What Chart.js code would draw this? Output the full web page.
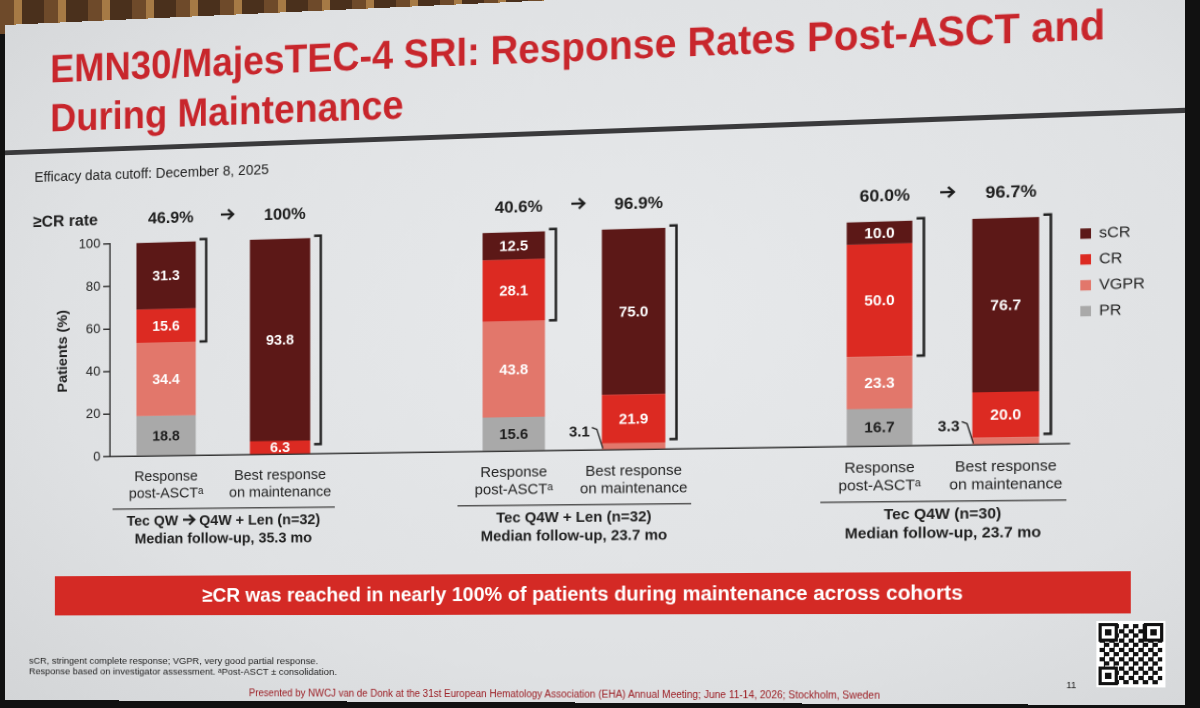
<!DOCTYPE html>
<html>
<head>
<meta charset="utf-8">
<script src="https://cdn.jsdelivr.net/npm/chart.js@4.4.1/dist/chart.umd.min.js"></script>
<style>
  html, body { margin: 0; padding: 0; }
  body {
    width: 1200px; height: 708px; overflow: hidden; position: relative;
    background:
      repeating-linear-gradient(90deg, #6e4a2a 0 14px, #a67a45 14px 22px, #4a301c 22px 44px) top left / 620px 34px no-repeat,
      #111;
    font-family: "Liberation Sans", Arial, sans-serif;
  }
  #slide {
    position: absolute; left: 5px; top: -2px; width: 1180px; height: 705px;
    transform-origin: 0 0;
    background: radial-gradient(ellipse at 55% 45%, #e7e9eb 0%, #dfe1e3 65%, #d3d5d7 100%);
    overflow: hidden;
  }
  #slide > div { position: absolute; }
  .title { left: 49px; top: 22.9px; font-size: 41px; line-height: 51px; font-weight: bold; color: #c8262c;
           white-space: nowrap; transform: scaleX(0.949); transform-origin: 0 0; }
  .rule { left: 0; top: 131px; width: 1180px; height: 5px; background: #3a3a3c; }
  .cutoff { left: 32px; top: 152.6px; font-size: 14.5px; line-height: 14.5px; color: #222; white-space: nowrap; }
  .chartbox { left: 0; top: 180px; width: 1180px; height: 380px; }
  .banner { left: 54px; top: 576px; width: 1076px; height: 41px; background: #d42a25; color: #fff;
            font-size: 20px; line-height: 41px; font-weight: bold; text-align: center; white-space: nowrap; }
  .foot { left: 26px; top: 657.5px; font-size: 9.9px; line-height: 11.5px; color: #222; white-space: nowrap; }
  .presented { left: 257px; width: 640px; top: 690.7px; font-size: 10px; line-height: 12px; color: #9b1c22; text-align: center; white-space: nowrap; }
  .pagenum { left: 1070px; top: 680.8px; font-size: 9px; line-height: 11px; color: #222; }
  .qr { left: 1098px; top: 624px; width: 64px; height: 64px; background: #fff; }
  .qr .cells { position: absolute; left: 3px; top: 3px; width: 58px; height: 58px;
               background: repeating-conic-gradient(#111 0 25%, #fff 0 50%) 0 0 / 9px 9px; }
  .qr .finder { position: absolute; width: 12px; height: 12px; border: 3px solid #111; background: #fff; }
  .qr .finder::after { content: ""; position: absolute; left: 3px; top: 3px; width: 6px; height: 6px; background: #111; }
</style>
</head>
<body>
<div id="slide">
  <div class="title">EMN30/MajesTEC-4 SRI: Response Rates Post-ASCT and<br>During Maintenance</div>
  <div class="rule"></div>
  <div class="cutoff">Efficacy data cutoff: December 8, 2025</div>
  <div class="chartbox"><canvas id="chart"></canvas></div>
  <div class="banner">≥CR was reached in nearly 100% of patients during maintenance across cohorts</div>
  <div class="foot">sCR, stringent complete response; VGPR, very good partial response.<br>Response based on investigator assessment. ᵃPost-ASCT ± consolidation.</div>
  <div class="presented">Presented by NWCJ van de Donk at the 31st European Hematology Association (EHA) Annual Meeting; June 11-14, 2026; Stockholm, Sweden</div>
  <div class="pagenum">11</div>
  <div class="qr">
    <div class="cells"></div>
    <div class="finder" style="left:2px;top:2px"></div>
    <div class="finder" style="left:44px;top:2px"></div>
    <div class="finder" style="left:2px;top:44px"></div>
  </div>
</div>
<script>
// cohorts
const cohortRegimens = ['Tec QW → Q4W + Len (n=32)', 'Tec Q4W + Len (n=32)', 'Tec Q4W (n=30)'];
const cohortFollowUp = ['Median follow-up, 35.3 mo', 'Median follow-up, 23.7 mo', 'Median follow-up, 23.7 mo'];
const crRatePostASCT = ['46.9%', '40.6%', '60.0%'];
const crRateMaintenance = ['100%', '96.9%', '96.7%'];
const timepoints = [['Response', 'post-ASCTᵃ'], ['Best response', 'on maintenance']];

// one value per bar: cohort 1 post-ASCT, cohort 1 maintenance, cohort 2 ..., cohort 3 ...
const prValues   = [18.8, 0,    15.6, 0,    16.7, 0];
const vgprValues = [34.4, 0,    43.8, 3.1,  23.3, 3.3];
const crValues   = [15.6, 6.3,  28.1, 21.9, 50.0, 20.0];
const scrValues  = [31.3, 93.8, 12.5, 75.0, 10.0, 76.7];

const seriesNames  = ['PR', 'VGPR', 'CR', 'sCR'];
const seriesColors = ['#a9a9a9', '#e2776b', '#dc2a22', '#5c1817'];
const labelColors  = ['#1e1e1e', '#ffffff', '#ffffff', '#ffffff'];
const yTicks = [0, 20, 40, 60, 80, 100];

// --- perspective of the photographed slide (flat slide -> photo) ---
function solve(A, b) {
  const n = b.length;
  for (let i = 0; i < n; i++) {
    let p = i;
    for (let r = i + 1; r < n; r++) if (Math.abs(A[r][i]) > Math.abs(A[p][i])) p = r;
    [A[i], A[p]] = [A[p], A[i]]; [b[i], b[p]] = [b[p], b[i]];
    for (let r = i + 1; r < n; r++) {
      const f = A[r][i] / A[i][i];
      for (let c = i; c < n; c++) A[r][c] -= f * A[i][c];
      b[r] -= f * b[i];
    }
  }
  const x = new Array(n);
  for (let i = n - 1; i >= 0; i--) {
    let s = b[i];
    for (let c = i + 1; c < n; c++) s -= A[i][c] * x[c];
    x[i] = s / A[i][i];
  }
  return x;
}
function homography(src, dst) {
  const A = [], b = [];
  for (let i = 0; i < 4; i++) {
    const [x, y] = src[i], [X, Y] = dst[i];
    A.push([x, y, 1, 0, 0, 0, -X * x, -X * y]); b.push(X);
    A.push([0, 0, 0, x, y, 1, -Y * x, -Y * y]); b.push(Y);
  }
  const h = solve(A, b);
  return `matrix3d(${h[0]},${h[3]},0,${h[6]},${h[1]},${h[4]},0,${h[7]},0,0,1,0,${h[2]},${h[5]},0,1)`;
}
const slide = document.getElementById('slide');
slide.style.transform = homography(
  [[0, 0], [1180, 0], [1180, 705], [0, 705]],
  [[0, 27], [1180, -26.6], [1180, 707.2], [0, 702]]
);

// --- chart data: a blank category between cohorts ---
function withGaps(arr, gap) {
  const out = [];
  arr.forEach((v, i) => { out.push(v); if (i % 2 === 1 && i < arr.length - 1) out.push(gap); });
  return out;
}
const categories = withGaps(cohortRegimens.flatMap(() => timepoints), '');
const seriesValues = [prValues, vgprValues, crValues, scrValues];

const FONT = '"Liberation Sans", Arial, sans-serif';
Chart.defaults.font.family = FONT;
Chart.defaults.color = '#222';

// thick slide-style arrow
function drawArrow(ctx, x0, x1, y) {
  ctx.save();
  ctx.strokeStyle = '#1e1e1e';
  ctx.lineWidth = 2.2;
  ctx.lineCap = 'butt';
  ctx.beginPath();
  ctx.moveTo(x0, y); ctx.lineTo(x1 - 1, y);
  ctx.moveTo(x1 - 5.5, y - 5); ctx.lineTo(x1, y); ctx.lineTo(x1 - 5.5, y + 5);
  ctx.stroke();
  ctx.restore();
}
function fillTextWithArrows(ctx, text, cx, y) {
  const parts = text.split('→');
  const arrowW = 14;
  const widths = parts.map(p => ctx.measureText(p).width);
  const total = widths.reduce((a, b) => a + b, 0) + arrowW * (parts.length - 1);
  let x = cx - total / 2;
  ctx.textAlign = 'left';
  parts.forEach((p, i) => {
    ctx.fillText(p, x, y);
    x += widths[i];
    if (i < parts.length - 1) { drawArrow(ctx, x + 1, x + arrowW - 1, y - 5.5); x += arrowW; }
  });
  ctx.textAlign = 'center';
}

const annotate = {
  id: 'annotate',
  afterDatasetsDraw(chart) {
    const ctx = chart.ctx;
    const area = chart.chartArea;
    const yScale = chart.scales.y;
    const metas = seriesNames.map((_, i) => chart.getDatasetMeta(i));
    ctx.save();

    // segment values
    ctx.font = 'bold 15px ' + FONT;
    metas.forEach((meta, i) => {
      meta.data.forEach((bar, j) => {
        const v = chart.data.datasets[i].data[j];
        if (!v) return;
        const top = Math.min(bar.y, bar.base), bottom = Math.max(bar.y, bar.base);
        const mid = (top + bottom) / 2;
        if (v < 5) {
          const left = bar.x - bar.width / 2;
          const tx = left - 12, ty = mid - 10;
          ctx.fillStyle = '#1e1e1e';
          ctx.textAlign = 'right';
          ctx.textBaseline = 'alphabetic';
          ctx.fillText(v.toFixed(1), tx, ty);
          ctx.strokeStyle = '#222';
          ctx.lineWidth = 1.3;
          ctx.beginPath();
          ctx.moveTo(tx + 2, ty - 9);
          ctx.lineTo(tx + 7, ty - 7);
          ctx.lineTo(left + 1, bottom - 1);
          ctx.stroke();
        } else {
          ctx.fillStyle = labelColors[i];
          ctx.textAlign = 'center';
          ctx.textBaseline = 'middle';
          ctx.fillText(v.toFixed(1), bar.x, mid + 1);
        }
      });
    });

    // brackets around sCR + CR
    const zeroY = yScale.getPixelForValue(0);
    ctx.strokeStyle = '#222';
    ctx.lineWidth = 2.5;
    metas[3].data.forEach((bar, j) => {
      if (categories[j] === '') return;
      const top = bar.y - 2;
      const bottom = Math.min(metas[2].data[j].base, zeroY - 10);
      const x = bar.x + bar.width / 2 + 11;
      ctx.beginPath();
      ctx.moveTo(x - 7, top); ctx.lineTo(x, top); ctx.lineTo(x, bottom); ctx.lineTo(x - 7, bottom);
      ctx.stroke();
    });

    // >=CR rate header
    const hdrY = area.top - 19.8;
    ctx.fillStyle = '#1e1e1e';
    ctx.textBaseline = 'alphabetic';
    ctx.font = 'bold 17px ' + FONT;
    ctx.textAlign = 'left';
    ctx.fillText('≥CR rate', 30.4, hdrY);
    ctx.textAlign = 'center';
    cohortRegimens.forEach((name, g) => {
      const b0 = metas[3].data[g * 3], b1 = metas[3].data[g * 3 + 1];
      ctx.fillText(crRatePostASCT[g], b0.x + 5, hdrY);
      ctx.fillText(crRateMaintenance[g], b1.x + 5, hdrY);
      const mid = (b0.x + b1.x) / 2 + 4;
      drawArrow(ctx, mid - 6, mid + 7, hdrY - 7);
    });

    // cohort labels under the axis
    const xScale = chart.scales.x;
    const half = (xScale.getPixelForValue(1) - xScale.getPixelForValue(0)) / 2;
    cohortRegimens.forEach((name, g) => {
      const x0 = xScale.getPixelForValue(g * 3) - half + 3;
      const x1 = xScale.getPixelForValue(g * 3 + 1) + half - 3;
      const lineY = area.bottom + 54.3;
      ctx.strokeStyle = '#555';
      ctx.lineWidth = 1.5;
      ctx.beginPath(); ctx.moveTo(x0, lineY); ctx.lineTo(x1, lineY); ctx.stroke();
      ctx.fillStyle = '#1e1e1e';
      ctx.font = 'bold 15px ' + FONT;
      fillTextWithArrows(ctx, name, (x0 + x1) / 2, area.bottom + 71.5);
      ctx.fillText(cohortFollowUp[g], (x0 + x1) / 2, area.bottom + 90);
    });
    ctx.restore();
  }
};

const chart = new Chart(document.getElementById('chart'), {
  type: 'bar',
  data: {
    labels: categories,
    datasets: seriesNames.map((name, i) => ({
      label: name,
      data: withGaps(seriesValues[i], null),
      backgroundColor: seriesColors[i],
      borderWidth: 0,
      barPercentage: 0.525,
      categoryPercentage: 1
    }))
  },
  options: {
    responsive: true,
    maintainAspectRatio: false,
    animation: false,
    devicePixelRatio: 2,
    layout: { padding: { top: 51.8, left: 0, right: 0, bottom: 0 } },
    plugins: {
      legend: {
        position: 'right',
        align: 'start',
        reverse: true,
        labels: { boxWidth: 10, boxHeight: 10, padding: 10, color: '#222', font: { size: 15, lineHeight: 1 } }
      },
      tooltip: { enabled: false }
    },
    scales: {
      x: {
        stacked: true,
        grid: { display: false },
        border: { display: true, color: '#333', width: 1.5 },
        ticks: { autoSkip: false, maxRotation: 0, padding: 5, color: '#222', font: { size: 15, lineHeight: 1.15 } },
        afterFit: (s) => { s.height = 107.6; }
      },
      y: {
        stacked: true,
        min: 0,
        max: 100,
        afterBuildTicks: (s) => { s.ticks = yTicks.map(v => ({ value: v })); },
        grid: { drawOnChartArea: false, drawTicks: true, tickLength: 7, color: '#333', lineWidth: 1.5 },
        border: { display: true, color: '#333', width: 1.5 },
        ticks: { padding: 3, color: '#222', font: { size: 14 } },
        title: { display: true, text: 'Patients (%)', color: '#222', font: { size: 15, weight: 'bold' }, padding: { top: 54, bottom: 0 } },
        afterFit: (s) => { s.width = 113; }
      }
    }
  },
  plugins: [annotate]
});

// keep the plot area ending at the same place whatever the legend width is
chart.options.layout.padding.right = chart.chartArea.right - 1073;
chart.update('none');
</script>
</body>
</html>
